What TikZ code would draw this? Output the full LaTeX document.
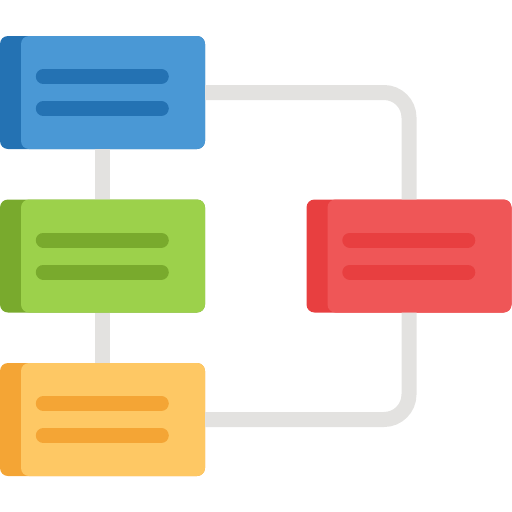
\documentclass[tikz,border=0pt]{standalone}
\usepackage{xcolor}
\usepackage{tikz}
\usetikzlibrary{positioning}
\definecolor{bluelight}{HTML}{4A98D5}
\definecolor{bluedark}{HTML}{2472B3}
\definecolor{greenlight}{HTML}{9CD14B}
\definecolor{greendark}{HTML}{79AA2D}
\definecolor{yellowlight}{HTML}{FEC864}
\definecolor{yellowdark}{HTML}{F4A535}
\definecolor{redlight}{HTML}{EF5657}
\definecolor{reddark}{HTML}{E83F40}
\definecolor{linkgray}{HTML}{E3E2E0}
\tikzstyle{card}=  [rectangle,
rounded corners=8pt,
minimum width=205pt,
minimum height=113pt,
inner sep=0,
]
\tikzstyle{face}=  [rectangle,
rounded corners=8pt,
minimum width=184pt,
minimum height=113pt,
inner sep=0,
anchor=east,
]
\tikzstyle{bar}=   [line width=15pt,
line cap=round,
]
\tikzstyle{link}=  [draw=linkgray,
line width=15pt,
rounded corners=25pt,
]

\begin{document}
\begin{tikzpicture}[x=1pt,y=-1pt]
        \useasboundingbox (0,0) rectangle (512,512);
        \node[card, fill=bluedark] (blue) at (102.5,92.5) {};
        \node[card, fill=greendark] (green) at (102.5,256) {};
        \node[card, fill=yellowdark] (yellow) at (102.5,419.5) {};
        \node[card, fill=reddark] (red) at (409,256) {};

        \node[face, fill=bluelight] (blueface) at (blue.east) {};
        \node[face, fill=greenlight] (greenface) at (green.east) {};
        \node[face, fill=yellowlight] (yellowface) at (yellow.east) {};
        \node[face, fill=redlight] (redface) at (red.east) {};

        \draw[bar, bluedark] ([xshift=43.5pt,yshift=16pt]blue.west) -- ([xshift=161.5pt,yshift=16pt]blue.west)
        ([xshift=43.5pt,yshift=-16pt]blue.west) -- ([xshift=161.5pt,yshift=-16pt]blue.west);
        \draw[bar, greendark] ([xshift=43.5pt,yshift=16pt]green.west) -- ([xshift=161.5pt,yshift=16pt]green.west)
        ([xshift=43.5pt,yshift=-16pt]green.west) -- ([xshift=161.5pt,yshift=-16pt]green.west);
        \draw[bar, yellowdark] ([xshift=43.5pt,yshift=16pt]yellow.west) -- ([xshift=161.5pt,yshift=16pt]yellow.west)
        ([xshift=43.5pt,yshift=-16pt]yellow.west) -- ([xshift=161.5pt,yshift=-16pt]yellow.west);
        \draw[bar, reddark] ([xshift=43.5pt,yshift=16pt]red.west) -- ([xshift=161.5pt,yshift=16pt]red.west)
        ([xshift=43.5pt,yshift=-16pt]red.west) -- ([xshift=161.5pt,yshift=-16pt]red.west);

        \draw[link] (blue) -- (green) (green) -- (yellow);
        \draw[link] (blue.east) -| (red.north);
        \draw[link] (yellow.east) -| (red.south);
    \end{tikzpicture}
\end{document}
